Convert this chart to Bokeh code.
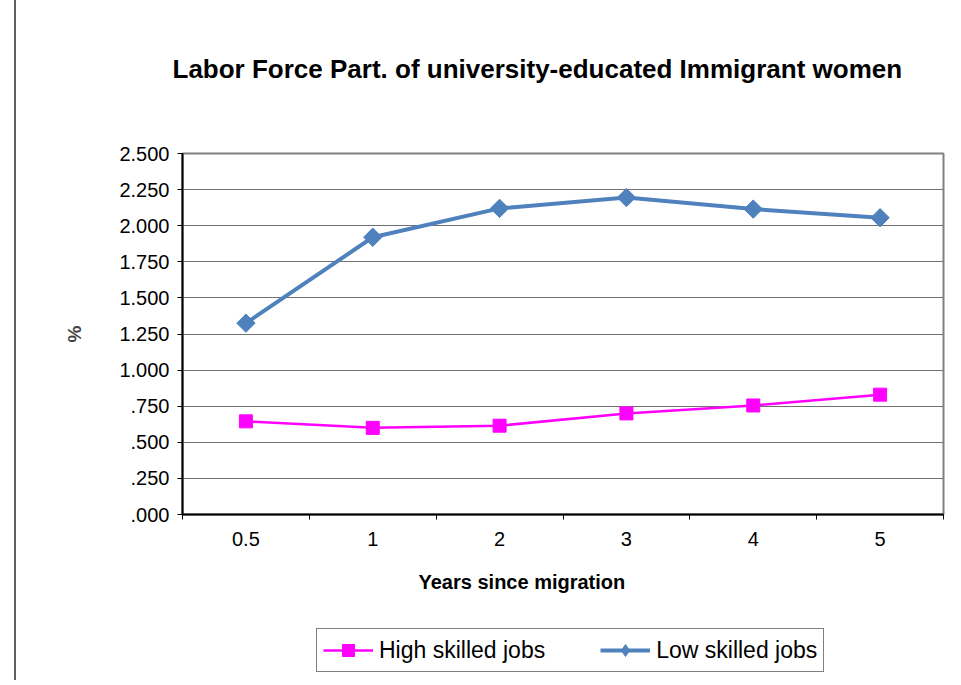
from bokeh.plotting import figure
from bokeh.layouts import column
from bokeh.models import Legend, LegendItem, FixedTicker, Title
from bokeh.embed import file_html
from bokeh.resources import INLINE

categories = ["0.5", "1", "2", "3", "4", "5"]
high_skilled = [0.645, 0.600, 0.615, 0.700, 0.755, 0.830]
low_skilled = [1.325, 1.920, 2.120, 2.195, 2.115, 2.055]
y_ticks = [0.0, 0.25, 0.5, 0.75, 1.0, 1.25, 1.5, 1.75, 2.0, 2.25, 2.5]
y_tick_labels = [".000", ".250", ".500", ".750", "1.000", "1.250", "1.500",
                 "1.750", "2.000", "2.250", "2.500"]
series_names = ["High skilled jobs", "Low skilled jobs"]

xs = [i + 0.5 for i in range(len(categories))]

FONT = "Liberation Sans"
pink = "#FF00FF"
blue = "#4F81BD"
edge_style = {"border-left": "2px solid #606060", "margin-left": "14px"}

p = figure(width=940, height=615, output_backend="svg", toolbar_location=None,
           x_range=(0, len(categories)), y_range=(0, 2.5), title=None,
           min_border_left=166, min_border_right=13, min_border_top=153,
           min_border_bottom=101)
p.styles = dict(edge_style)
p.background_fill_color = "white"
p.border_fill_color = "white"
p.outline_line_color = "#808080"
p.outline_line_width = 2

# x axis
p.xaxis.ticker = FixedTicker(ticks=xs, minor_ticks=list(range(len(categories) + 1)))
p.xaxis.major_label_overrides = {x: c for x, c in zip(xs, categories)}
p.xaxis.major_tick_out = 0
p.xaxis.major_tick_in = 0
p.xaxis.minor_tick_out = 5
p.xaxis.minor_tick_in = 0
p.xaxis.minor_tick_line_color = "black"
p.xaxis.axis_line_color = "black"
p.xaxis.axis_line_width = 2
p.xaxis.major_label_text_font = FONT
p.xaxis.major_label_text_font_size = "20px"
p.xaxis.major_label_text_color = "black"
p.xaxis.major_label_standoff = 12

# y axis
p.yaxis.ticker = FixedTicker(ticks=y_ticks)
p.yaxis.major_label_overrides = {t: l for t, l in zip(y_ticks, y_tick_labels)}
p.yaxis.minor_tick_line_color = None
p.yaxis.major_tick_out = 5
p.yaxis.major_tick_in = 0
p.yaxis.major_tick_line_color = "black"
p.yaxis.axis_line_color = "black"
p.yaxis.axis_line_width = 2
p.yaxis.major_label_text_font = FONT
p.yaxis.major_label_text_font_size = "20px"
p.yaxis.major_label_text_color = "black"
p.yaxis.major_label_standoff = 8
p.yaxis.axis_label = "%"
p.yaxis.axis_label_text_font = FONT
p.yaxis.axis_label_text_font_size = "19px"
p.yaxis.axis_label_text_font_style = "bold"
p.yaxis.axis_label_standoff = 31

p.xgrid.grid_line_color = None
p.ygrid.grid_line_color = "#707070"
p.ygrid.grid_line_width = 1

p.line(xs, high_skilled, line_color=pink, line_width=2.5)
p.scatter(xs, high_skilled, marker="square", size=13, fill_color=pink, line_color=pink)
p.line(xs, low_skilled, line_color=blue, line_width=4)
p.scatter(xs, low_skilled, marker="square", angle=0.785398, size=13,
          fill_color=blue, line_color=blue)

# spacer between frame and title (closest to frame is added first)
p.add_layout(Title(text=" ", text_font=FONT, text_font_size="47px"), "above")
p.add_layout(Title(text="Labor Force Part. of university-educated Immigrant women",
                   align="left", offset=-10, text_font=FONT, text_font_size="26px",
                   text_font_style="bold", text_color="black"), "above")

# spacer between tick labels and the x-axis title
p.add_layout(Title(text=" ", text_font=FONT, text_font_size="3px"), "below")
p.add_layout(Title(text="Years since migration", align="left", offset=236,
                   text_font=FONT, text_font_size="20px", text_font_style="bold",
                   text_color="black"), "below")

# legend strip: same series drawn off-view, only their legend is visible
q = figure(width=940, height=65, output_backend="svg", toolbar_location=None,
           x_range=(0, len(categories)), y_range=(-2, -1), title=None, min_border=0)
q.styles = dict(edge_style)
q.axis.visible = False
q.grid.grid_line_color = None
q.outline_line_color = None
q.background_fill_color = "white"
q.border_fill_color = "white"

hl = q.line(xs, high_skilled, line_color=pink, line_width=2.5)
hm = q.scatter(xs, high_skilled, marker="square", size=13, fill_color=pink, line_color=pink)
ll = q.line(xs, low_skilled, line_color=blue, line_width=4)
lm = q.scatter(xs, low_skilled, marker="diamond", size=15, fill_color=blue, line_color=blue)

legend = Legend(items=[LegendItem(label=series_names[0], renderers=[hl, hm]),
                       LegendItem(label=series_names[1], renderers=[ll, lm])],
                orientation="horizontal", location=(134, 8))
legend.label_text_font = FONT
legend.label_text_font_size = "23px"
legend.label_text_color = "black"
legend.glyph_width = 50
legend.glyph_height = 30
legend.label_height = 20
legend.label_standoff = 6
legend.spacing = 55
legend.padding = 6
legend.margin = 0
legend.border_line_color = "black"
legend.border_line_width = 1
legend.background_fill_color = "white"
legend.background_fill_alpha = 1
q.add_layout(legend, "center")

layout = column(p, q, spacing=0)
open("out.html", "w").write(file_html(layout, INLINE))
